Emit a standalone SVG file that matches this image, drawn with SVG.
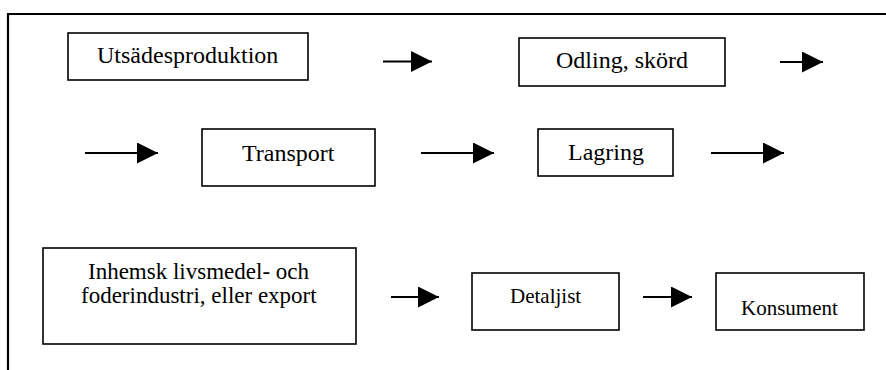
<svg xmlns="http://www.w3.org/2000/svg" width="886" height="370" viewBox="0 0 886 370">
<defs>
<marker id="ah" markerUnits="userSpaceOnUse" markerWidth="21" markerHeight="21" refX="21" refY="10.5" orient="auto">
<path d="M0,0 L21,10.5 L0,21 z" fill="#000"/>
</marker>
</defs>
<rect width="886" height="370" fill="#fff"/>
<path d="M8,370 V14 H886" fill="none" stroke="#000" stroke-width="2.2"/>
<g id="n-utsades" font-size="24" fill="#000"><rect x="68" y="33" width="240" height="47" fill="#fff" stroke="#000" stroke-width="1.6"/><text x="97" y="63" font-family="Liberation Serif">Uts&#228;desproduktion</text></g>
<g id="n-odling" font-size="24" fill="#000"><rect x="519" y="38" width="206" height="48" fill="#fff" stroke="#000" stroke-width="1.6"/><text x="556" y="68" font-family="Liberation Serif">Odling, sk&#246;rd</text></g>
<g id="n-transport" font-size="24" fill="#000"><rect x="202" y="129" width="173" height="57" fill="#fff" stroke="#000" stroke-width="1.6"/><text x="242" y="161" font-family="Liberation Serif">Transport</text></g>
<g id="n-lagring" font-size="24" fill="#000"><rect x="538" y="129" width="135" height="47" fill="#fff" stroke="#000" stroke-width="1.6"/><text x="568" y="160" font-family="Liberation Serif">Lagring</text></g>
<g id="n-inhemsk" font-size="23" fill="#000"><rect x="43" y="248" width="313" height="96" fill="#fff" stroke="#000" stroke-width="1.6"/><text x="88" y="279" font-family="Liberation Serif">Inhemsk livsmedel- och</text><text x="81" y="303" font-family="Liberation Serif">foderindustri, eller export</text></g>
<g id="n-detaljist" font-size="21" fill="#000"><rect x="472" y="273" width="147" height="57" fill="#fff" stroke="#000" stroke-width="1.6"/><text x="510" y="303" font-family="Liberation Serif">Detaljist</text></g>
<g id="n-konsument" font-size="21" fill="#000"><rect x="716" y="273" width="148" height="57" fill="#fff" stroke="#000" stroke-width="1.6"/><text x="741" y="315" font-family="Liberation Serif">Konsument</text></g>
<g id="connectors" stroke="#000" stroke-width="1.8" marker-end="url(#ah)">
<line x1="383" y1="61.5" x2="432" y2="61.5"/>
<line x1="780" y1="62" x2="823" y2="62"/>
<line x1="85" y1="153" x2="158" y2="153"/>
<line x1="421" y1="153" x2="494" y2="153"/>
<line x1="711" y1="153" x2="784" y2="153"/>
<line x1="391" y1="297" x2="439" y2="297"/>
<line x1="643" y1="297" x2="692" y2="297"/>
</g>
</svg>
